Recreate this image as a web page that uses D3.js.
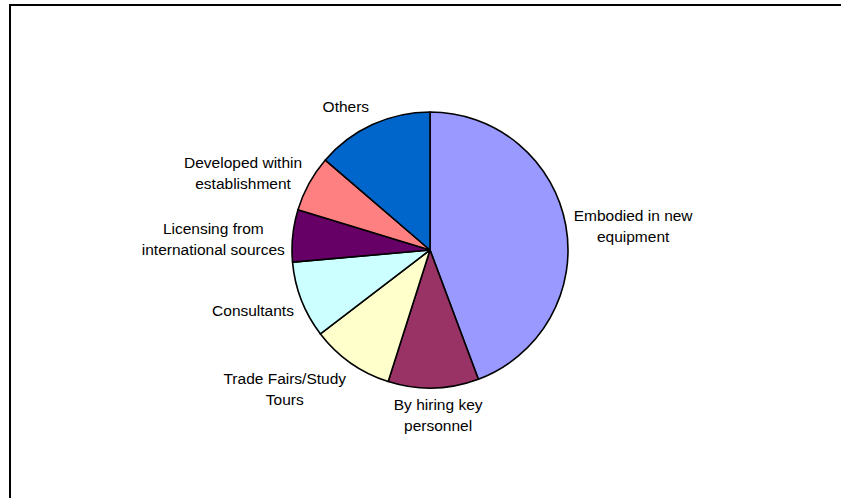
<!DOCTYPE html>
<html>
<head>
<meta charset="utf-8">
<script src="https://cdn.jsdelivr.net/npm/d3@7"></script>
<style>
  html, body { margin: 0; padding: 0; background: #fff; }
  svg { display: block; }
  text { font-family: "Liberation Sans", Arial, sans-serif; font-size: 15.5px; fill: #000; }
</style>
</head>
<body>
<svg id="chart" width="841" height="498"></svg>
<script>
// Sources of technology acquisition (share of establishments, %)
const categories = [
  "Embodied in new equipment",
  "By hiring key personnel",
  "Trade Fairs/Study Tours",
  "Consultants",
  "Licensing from international sources",
  "Developed within establishment",
  "Others"
];
const values = [44.3, 10.6, 9.7, 9.0, 6.1, 6.6, 13.7];
// Wrapped label lines, as they appear beside each slice
const labelLines = [
  ["Embodied in new", "equipment"],
  ["By hiring key", "personnel"],
  ["Trade Fairs/Study", "Tours"],
  ["Consultants"],
  ["Licensing from", "international sources"],
  ["Developed within", "establishment"],
  ["Others"]
];
const colors = ["#9999FF", "#993366", "#FFFFCC", "#CCFFFF", "#660066", "#FF8080", "#0066CC"];

const svg = d3.select("#chart");
const W = 841, H = 498;
const cx = 430, cy = 250, radius = 138, labelRadius = 146;
const lineH = 20.8;

// Outer chart frame (runs past the right and bottom edges)
svg.append("rect")
  .attr("x", 10).attr("y", 5)
  .attr("width", W + 40).attr("height", H + 40)
  .attr("fill", "none").attr("stroke", "#000").attr("stroke-width", 2);

const data = categories.map((c, i) => ({ name: c, value: values[i], lines: labelLines[i], color: colors[i] }));

const pie = d3.pie().sort(null).value(d => d.value);
const arcs = pie(data);
const arc = d3.arc().innerRadius(0).outerRadius(radius);

const g = svg.append("g").attr("transform", `translate(${cx},${cy})`);

g.selectAll("path.slice")
  .data(arcs)
  .join("path")
  .attr("class", "slice")
  .attr("d", arc)
  .attr("fill", d => d.data.color)
  .attr("stroke", "#000")
  .attr("stroke-width", 1.6)
  .attr("stroke-linejoin", "round");

// Labels: box placed just outside the rim, aligned by the slice's mid-angle
const clamp = (v, a, b) => Math.max(a, Math.min(b, v));
arcs.forEach(d => {
  const mid = (d.startAngle + d.endAngle) / 2;
  const s = Math.sin(mid), c = Math.cos(mid);
  const px = labelRadius * s, py = -labelRadius * c;

  const t = g.append("text").attr("text-anchor", "middle");
  const spans = d.data.lines.map(line => t.append("tspan").text(line));
  const w = d3.max(spans, sp => sp.node().getComputedTextLength());
  const h = d.data.lines.length * lineH + 1;

  const fx = clamp(0.5 - 2 * s, 0, 1);
  const fy = clamp(0.3 + 0.65 * c, 0, 1);
  const left = px - fx * w;
  const top = py - fy * h;

  spans.forEach((sp, i) => {
    sp.attr("x", left + w / 2).attr("y", top + 14.5 + i * lineH);
  });
});
</script>
</body>
</html>
